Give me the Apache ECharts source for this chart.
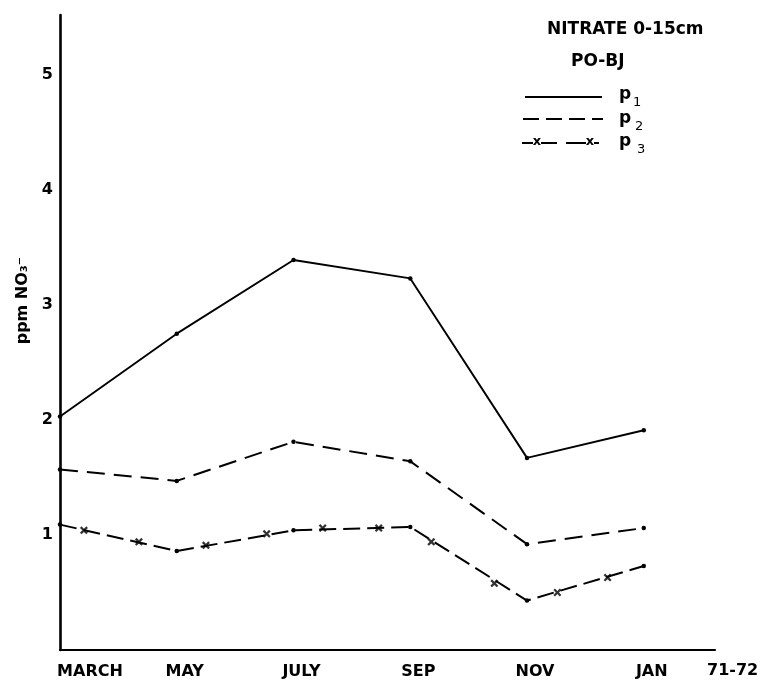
<!DOCTYPE html>
<html>
<head>
<meta charset="utf-8">
<script src="https://cdn.jsdelivr.net/npm/echarts@6/dist/echarts.min.js"></script>
<style>
  html, body { margin: 0; padding: 0; background: #fff; }
  #chart { width: 763px; height: 681px; }
</style>
</head>
<body>
<div id="chart"></div>
<script>
// ---- data ----
const months = ['MARCH', 'MAY', 'JULY', 'SEP', 'NOV', 'JAN'];
const seasonLabel = '71-72';
const p1 = [2.03, 2.75, 3.39, 3.23, 1.67, 1.91];
const p2 = [1.57, 1.47, 1.81, 1.64, 0.92, 1.06];
const p3 = [1.09, 0.86, 1.04, 1.07, 0.43, 0.73];
// the "x" marks drawn along the p3 line (position in month steps, value)
const p3CrossX = [0.205, 0.676, 1.25, 1.77, 2.25, 2.73, 3.18, 3.72, 4.26, 4.69];
const p3CrossY = [1.04, 0.94, 0.91, 1.01, 1.06, 1.06, 0.94, 0.58, 0.50, 0.63];
const yTicks = [1, 2, 3, 4, 5];
const titleText = 'NITRATE 0-15cm';
const subtitleText = 'PO-BJ';
const seriesNames = ['p', 'p', 'p'];
const seriesSubs = ['1', '2', '3'];

const FONT = '"DejaVu Sans", "Liberation Sans", sans-serif';
const crossPath = 'path://M0,2 L2,0 L5,3 L8,0 L10,2 L7,5 L10,8 L8,10 L5,7 L2,10 L0,8 L3,5 Z';

const idx = months.map((m, i) => i);
const toPairs = (xs, ys) => xs.map((x, i) => [x, ys[i]]);

const chart = echarts.init(document.getElementById('chart'), null, { renderer: 'canvas' });

const lineBase = {
  type: 'line',
  symbol: 'circle',
  symbolSize: 4.5,
  showSymbol: true,
  itemStyle: { color: '#000' },
  emphasis: { disabled: true },
  z: 3
};

// legend drawn as graphic elements
const legendGraphics = [
  { type: 'text', x: 547, y: 30, style: { text: titleText, font: 'bold 17px ' + FONT, fill: '#000', verticalAlign: 'middle' } },
  { type: 'text', x: 571, y: 62, style: { text: subtitleText, font: 'bold 17px ' + FONT, fill: '#000', verticalAlign: 'middle' } },
  // p1
  { type: 'line', shape: { x1: 525, y1: 97, x2: 602, y2: 97 }, style: { stroke: '#000', lineWidth: 1.9 } },
  // p2
  { type: 'line', shape: { x1: 523, y1: 119, x2: 603, y2: 119 }, style: { stroke: '#000', lineWidth: 2, lineDash: [16, 7] } },
  // p3
  { type: 'line', shape: { x1: 522, y1: 143, x2: 533, y2: 143 }, style: { stroke: '#000', lineWidth: 2 } },
  { type: 'line', shape: { x1: 541, y1: 143, x2: 557, y2: 143 }, style: { stroke: '#000', lineWidth: 2 } },
  { type: 'line', shape: { x1: 566, y1: 143, x2: 586, y2: 143 }, style: { stroke: '#000', lineWidth: 2 } },
  { type: 'line', shape: { x1: 594, y1: 143, x2: 599, y2: 143 }, style: { stroke: '#000', lineWidth: 2 } },
  { type: 'text', x: 537, y: 142, style: { text: 'x', font: 'bold 13px ' + FONT, fill: '#000', align: 'center', verticalAlign: 'middle' } },
  { type: 'text', x: 590, y: 142, style: { text: 'x', font: 'bold 13px ' + FONT, fill: '#000', align: 'center', verticalAlign: 'middle' } }
];
const legendY = [95, 119, 142];
seriesNames.forEach((n, i) => {
  legendGraphics.push({ type: 'text', x: 619, y: legendY[i], style: { text: n, font: 'bold 17px ' + FONT, fill: '#000', verticalAlign: 'middle' } });
  legendGraphics.push({ type: 'text', x: 633 + i * 2, y: legendY[i] + 8, style: { text: seriesSubs[i], font: '13px ' + FONT, fill: '#000', verticalAlign: 'middle' } });
});

const option = {
  backgroundColor: '#fff',
  animation: false,
  textStyle: { fontFamily: FONT },
  grid: { left: 60, right: 48, top: 15, bottom: 31, containLabel: false },
  xAxis: {
    type: 'value',
    min: 0,
    max: 5.61,
    name: seasonLabel,
    nameLocation: 'end',
    nameGap: -8,
    nameTextStyle: { fontFamily: FONT, fontWeight: 'bold', fontSize: 16, color: '#000', verticalAlign: 'top', padding: [13, 0, 0, 0] },
    axisLine: { show: true, onZero: false, lineStyle: { color: '#000', width: 2.2 } },
    axisTick: { show: false },
    splitLine: { show: false },
    axisLabel: {
      customValues: idx,
      margin: 14,
      formatter: (v) => {
        const m = months[Math.round(v)];
        return m === months[0] ? '{a|' + m + '}' : '{b|' + m + '}';
      },
      rich: {
        a: { fontFamily: FONT, fontWeight: 'bold', fontSize: 16, color: '#000', padding: [0, 0, 0, 60] },
        b: { fontFamily: FONT, fontWeight: 'bold', fontSize: 16, color: '#000', padding: [0, 0, 0, 16] }
      }
    }
  },
  yAxis: {
    type: 'value',
    min: 0,
    max: 5.52,
    name: 'ppm NO\u2083\u207B',
    nameLocation: 'middle',
    nameRotate: 90,
    nameGap: 28,
    nameTextStyle: { fontFamily: FONT, fontWeight: 'bold', fontSize: 16, color: '#000', padding: [0, 0, 0, 64] },
    axisLine: { show: true, onZero: false, lineStyle: { color: '#000', width: 2.6 } },
    axisTick: { show: false },
    splitLine: { show: false },
    axisLabel: {
      customValues: yTicks,
      margin: 7,
      fontFamily: FONT,
      fontWeight: 'bold',
      fontSize: 16,
      color: '#000'
    }
  },
  series: [
    Object.assign({}, lineBase, {
      name: 'p1',
      data: toPairs(idx, p1),
      lineStyle: { color: '#000', width: 1.9, type: 'solid' }
    }),
    Object.assign({}, lineBase, {
      name: 'p2',
      data: toPairs(idx, p2),
      lineStyle: { color: '#000', width: 2, type: [18, 9] }
    }),
    Object.assign({}, lineBase, {
      name: 'p3',
      data: toPairs(idx, p3),
      lineStyle: { color: '#000', width: 2, type: [17, 7] }
    }),
    {
      name: 'p3 marks',
      type: 'scatter',
      symbol: crossPath,
      symbolSize: 8,
      itemStyle: { color: '#000' },
      emphasis: { disabled: true },
      data: toPairs(p3CrossX, p3CrossY),
      z: 4
    }
  ],
  graphic: legendGraphics
};

chart.setOption(option);
</script>
</body>
</html>
